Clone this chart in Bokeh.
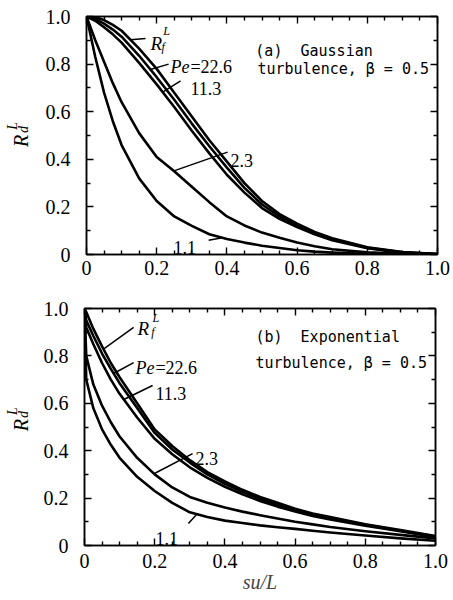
import numpy as np
from bokeh.plotting import figure
from bokeh.layouts import column, row
from bokeh.models import FixedTicker, Label, Range1d, LinearAxis
from bokeh.core.properties import value
from bokeh.embed import file_html
from bokeh.resources import INLINE

# ---------------- data ----------------
x_ticks = [0, 0.2, 0.4, 0.6, 0.8, 1.0]
x_tick_labels = ["0", "0.2", "0.4", "0.6", "0.8", "1.0"]
x_minor = [0.05, 0.1, 0.15, 0.25, 0.3, 0.35, 0.45, 0.5, 0.55, 0.65, 0.7, 0.75, 0.85, 0.9, 0.95]
y_ticks = [0, 0.2, 0.4, 0.6, 0.8, 1.0]
y_tick_labels = ["0", "0.2", "0.4", "0.6", "0.8", "1.0"]
y_minor = [0.1, 0.3, 0.5, 0.7, 0.9]

# (a) Gaussian turbulence
x_gauss = [0, 0.025, 0.05, 0.075, 0.1, 0.15, 0.2, 0.25, 0.3, 0.35, 0.4, 0.45, 0.5, 0.55, 0.6, 0.65, 0.7, 0.8, 0.9, 1.0]
rf_gauss = [1.0, 0.997, 0.985, 0.965, 0.94, 0.865, 0.78, 0.68, 0.58, 0.48, 0.39, 0.30, 0.225, 0.17, 0.13, 0.095, 0.068, 0.03, 0.01, 0.002]
pe226_gauss = [1.0, 0.99, 0.97, 0.945, 0.915, 0.835, 0.745, 0.65, 0.55, 0.455, 0.365, 0.28, 0.21, 0.16, 0.123, 0.09, 0.065, 0.028, 0.009, 0.002]
pe113_gauss = [1.0, 0.982, 0.955, 0.925, 0.89, 0.805, 0.715, 0.62, 0.52, 0.425, 0.335, 0.26, 0.195, 0.15, 0.115, 0.085, 0.06, 0.026, 0.008, 0.002]
pe23_gauss = [1.0, 0.90, 0.81, 0.72, 0.64, 0.51, 0.41, 0.35, 0.285, 0.22, 0.16, 0.122, 0.092, 0.07, 0.05, 0.035, 0.022, 0.009, 0.003, 0.001]
pe11_gauss = [1.0, 0.83, 0.68, 0.56, 0.46, 0.32, 0.225, 0.16, 0.12, 0.085, 0.065, 0.05, 0.037, 0.027, 0.018, 0.012, 0.008, 0.003, 0.001, 0.0]

# (b) Exponential turbulence
x_exp = [0, 0.005, 0.025, 0.05, 0.075, 0.1, 0.15, 0.2, 0.25, 0.3, 0.35, 0.4, 0.45, 0.5, 0.55, 0.6, 0.65, 0.7, 0.8, 0.9, 1.0]
rf_exp = [1.0, 0.985, 0.915, 0.84, 0.77, 0.71, 0.60, 0.49, 0.42, 0.36, 0.31, 0.27, 0.235, 0.205, 0.18, 0.155, 0.135, 0.12, 0.09, 0.065, 0.04]
pe226_exp = [1.0, 0.95, 0.885, 0.81, 0.745, 0.685, 0.58, 0.475, 0.405, 0.35, 0.30, 0.26, 0.227, 0.197, 0.172, 0.15, 0.13, 0.115, 0.087, 0.062, 0.038]
pe113_exp = [1.0, 0.92, 0.85, 0.77, 0.70, 0.64, 0.54, 0.45, 0.385, 0.33, 0.285, 0.248, 0.216, 0.188, 0.164, 0.143, 0.125, 0.11, 0.083, 0.06, 0.035]
pe23_exp = [1.0, 0.80, 0.68, 0.59, 0.52, 0.46, 0.37, 0.30, 0.245, 0.205, 0.18, 0.16, 0.143, 0.128, 0.114, 0.10, 0.089, 0.078, 0.06, 0.045, 0.03]
pe11_exp = [1.0, 0.70, 0.58, 0.49, 0.425, 0.37, 0.29, 0.23, 0.18, 0.14, 0.12, 0.105, 0.095, 0.085, 0.077, 0.07, 0.062, 0.055, 0.042, 0.03, 0.02]

SERIF = "Liberation Serif"
MONO = "DejaVu Sans Mono"
SIDE_W = 40  # width of the strip that carries the y-axis title


def style_axis(ax, ticks, minor, labels):
    ax.ticker = FixedTicker(ticks=ticks, minor_ticks=minor)
    ax.major_label_overrides = {t: s for t, s in zip(ticks, labels)}
    ax.major_tick_in = 7
    ax.major_tick_out = 0
    ax.minor_tick_in = 4
    ax.minor_tick_out = 0
    ax.axis_line_width = 1.5
    ax.axis_line_color = "black"
    ax.major_tick_line_width = 1.4
    ax.minor_tick_line_width = 1.4
    ax.major_tick_line_color = "black"
    ax.minor_tick_line_color = "black"
    ax.major_label_text_font = SERIF
    ax.major_label_text_font_size = "20px"
    ax.major_label_text_color = "black"


def add_text(p, text, x, y, size, style="normal", font=SERIF):
    p.add_layout(Label(x=x, y=y, text=text, text_font=font, text_font_size=size,
                       text_font_style=style, text_color="black", text_baseline="alphabetic",
                       text_align="left"))


def side_strip(height, r_pos, d_pos, l_pos):
    s = figure(width=SIDE_W, height=height, x_range=Range1d(0, SIDE_W), y_range=Range1d(0, height),
               output_backend="svg", toolbar_location=None, x_axis_type=None, y_axis_type=None,
               min_border=0, outline_line_color=None)
    s.grid.visible = False
    a = np.pi / 2
    s.text(x=[r_pos[0]], y=[r_pos[1]], text=["R"], angle=a, text_font=value(SERIF),
           text_font_style="italic", text_font_size="20px", text_baseline="alphabetic",
           text_align="left", text_color="black")
    s.text(x=[d_pos[0], l_pos[0]], y=[d_pos[1], l_pos[1]], text=["d", "L"], angle=a,
           text_font=value(SERIF), text_font_style="italic", text_font_size="14px",
           text_baseline="alphabetic", text_align="left", text_color="black")
    return s


def panel(xs, curves, tips, starts, title1, title2, left_b, right_b, top_b, bottom_b,
          frame_h, x_standoff, pos, xlabel=None):
    p = figure(frame_width=351, frame_height=frame_h, x_range=Range1d(0, 1), y_range=Range1d(0, 1),
               output_backend="svg", toolbar_location=None,
               min_border_left=left_b, min_border_right=right_b, min_border_top=top_b,
               min_border_bottom=bottom_b)
    p.grid.visible = False
    p.outline_line_color = "black"
    p.outline_line_width = 1.5
    p.background_fill_color = "white"
    p.border_fill_color = "white"

    xax = p.xaxis[0]
    yax = p.yaxis[0]
    style_axis(xax, x_ticks, x_minor, x_tick_labels)
    style_axis(yax, y_ticks, y_minor, y_tick_labels)
    xax.major_label_standoff = x_standoff
    yax.major_label_standoff = 16
    top = LinearAxis()
    style_axis(top, x_ticks, x_minor, [""] * len(x_ticks))
    top.major_label_text_font_size = "0px"
    p.add_layout(top, "above")
    right = LinearAxis()
    style_axis(right, y_ticks, y_minor, [""] * len(y_ticks))
    right.major_label_text_font_size = "0px"
    p.add_layout(right, "right")

    for ys in curves:
        p.line(xs, ys, line_color="black", line_width=2.6, line_join="round")

    # leader lines from each label to its curve
    x0 = [s[0] for s in starts]
    y0 = [s[1] for s in starts]
    x1 = list(tips)
    y1 = [float(np.interp(t, xs, ys)) for t, ys in zip(tips, curves)]
    p.segment(x0, y0, x1, y1, line_color="black", line_width=1.5)

    # curve labels
    add_text(p, "R", pos["R"][0], pos["R"][1], "19px", "italic")
    add_text(p, "L", pos["L"][0], pos["L"][1], "12px", "italic")
    add_text(p, "f", pos["f"][0], pos["f"][1], "12px", "italic")
    add_text(p, "Pe", pos["Pe"][0], pos["Pe"][1], "18px", "italic")
    add_text(p, "=22.6", pos["Pe"][0] + 0.057, pos["Pe"][1], "18px")
    add_text(p, "11.3", pos["11.3"][0], pos["11.3"][1], "18px")
    add_text(p, "2.3", pos["2.3"][0], pos["2.3"][1], "18px")
    add_text(p, "1.1", pos["1.1"][0], pos["1.1"][1], "18px")

    # panel titles
    add_text(p, title1, pos["t1"][0], pos["t1"][1], "15px", font=MONO)
    add_text(p, title2, pos["t2"][0], pos["t2"][1], "15px", font=MONO)

    if xlabel:
        xax.axis_label = xlabel
        xax.axis_label_text_font = SERIF
        xax.axis_label_text_font_style = "italic"
        xax.axis_label_text_font_size = "20px"
        xax.axis_label_standoff = 0
    return p


curves_a = [rf_gauss, pe226_gauss, pe113_gauss, pe23_gauss, pe11_gauss]
tips_a = [0.125, 0.182, 0.217, 0.249, 0.387]
starts_a = [(0.168, 0.908), (0.234, 0.80), (0.268, 0.73), (0.402, 0.43), (0.348, 0.06)]
pos_a = {"R": (0.182, 0.888), "L": (0.219, 0.937), "f": (0.214, 0.872),
         "Pe": (0.239, 0.786), "11.3": (0.296, 0.697), "2.3": (0.41, 0.395), "1.1": (0.248, 0.03),
         "t1": (0.481, 0.857), "t2": (0.487, 0.78)}

curves_b = [rf_exp, pe226_exp, pe113_exp, pe23_exp, pe11_exp]
tips_b = [0.054, 0.083, 0.112, 0.198, 0.32]
starts_b = [(0.14, 0.92), (0.14, 0.772), (0.194, 0.675), (0.308, 0.388), (0.296, 0.093)]
pos_b = {"R": (0.151, 0.916), "L": (0.194, 0.962), "f": (0.19, 0.9),
         "Pe": (0.145, 0.747), "11.3": (0.202, 0.641), "2.3": (0.316, 0.367), "1.1": (0.202, 0.03),
         "t1": (0.487, 0.88), "t2": (0.487, 0.772)}

H1 = 290
H2 = 307
p1 = panel(x_gauss, curves_a, tips_a, starts_a, "(a)\u00a0 Gaussian", "turbulence, \u03b2 = 0.5",
           86 - SIDE_W, 15, 16, 36, 238, 6, pos_a)
p2 = panel(x_exp, curves_b, tips_b, starts_b, "(b)\u00a0 Exponential", "turbulence, \u03b2 = 0.5",
           84 - SIDE_W, 17, 18, 52, 237, 8, pos_b, xlabel="su/L")

s1 = side_strip(H1, (20, H1 - 159), (23, H1 - 142), (12, H1 - 138))
s2 = side_strip(H2, (20, H2 - 159), (23, H2 - 142), (12, H2 - 138))

layout = column(row(s1, p1, spacing=0), row(s2, p2, spacing=0), spacing=0)
open("out.html", "w").write(file_html(layout, INLINE))
